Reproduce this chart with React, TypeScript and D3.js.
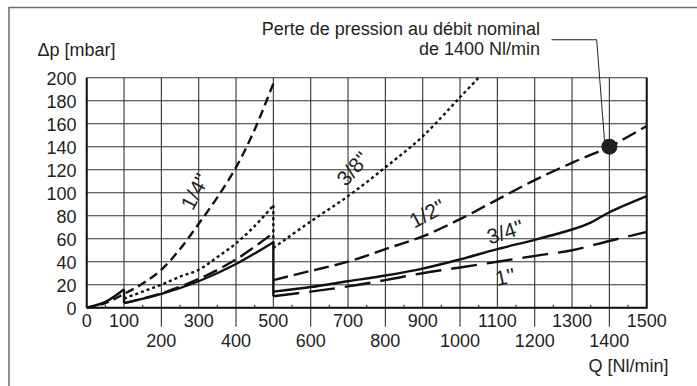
import React from 'react';
import * as d3 from 'd3';

// ticks
const yTicks = [0, 20, 40, 60, 80, 100, 120, 140, 160, 180, 200];
const xTicksTop = [0, 100, 300, 500, 700, 900, 1100, 1300, 1500];
const xTicksLow = [200, 400, 600, 800, 1000, 1200, 1400];
const xGrid = d3.range(0, 1501, 100);
const xMinor = d3.range(50, 1500, 100);

// 1/4'' (0 - 500)
const q14 = [0, 50, 100, 150, 200, 250, 300, 350, 400, 450, 500];
const p14 = [0, 4, 12, 21, 33, 51, 73, 96, 122, 155, 195];

// 3/8'' dotted
const q38a = [100, 150, 200, 250, 300, 350, 400, 450, 500];
const p38a = [8, 14, 20, 27, 33, 44, 56, 71, 89];
const q38b = [500, 600, 700, 800, 900, 1000, 1050];
const p38b = [52, 75, 97, 122, 149, 183, 200];

// 1/2'' long dash
const q12a = [100, 200, 300, 400, 500];
const p12a = [4, 12.5, 25, 42, 65];
const q12b = [500, 600, 700, 800, 900, 1000, 1100, 1200, 1300, 1400, 1500];
const p12b = [24, 32, 40, 51, 62, 77, 94, 111, 126, 140, 158];

// solid (3/4'')
const qSa = [0, 50, 100];
const pSa = [0, 5, 16];
const qSb = [100, 200, 300, 400, 500];
const pSb = [4, 12, 23, 38, 57];
const q34 = [500, 600, 700, 800, 900, 1000, 1100, 1200, 1300, 1350, 1400, 1500];
const p34 = [14, 18, 23, 28, 34, 42, 51, 59, 68, 74, 83, 97];

// 1''
const q1 = [500, 600, 700, 800, 900, 1000, 1100, 1200, 1300, 1400, 1500];
const p1 = [10, 14, 18.5, 24, 30, 35, 40, 45, 50, 58, 66];

// jumps at the range changes
const jumps = [
  { q: 100, from: 16, to: 4, dash: '' },
  { q: 500, from: 57, to: 10, dash: '' },
  { q: 500, from: 89, to: 52, dash: '3,3' },
];

const sizeLabels = [
  { text: '1/4\'\'', q: 290, p: 101, rot: -62 },
  { text: '3/8\'\'', q: 713, p: 121, rot: -48 },
  { text: '1/2\'\'', q: 912, p: 82, rot: -28 },
  { text: '3/4\'\'', q: 1121, p: 66, rot: -18 },
  { text: '1\'\'', q: 1121, p: 27, rot: -12 },
];

const nominal = { q: 1400, p: 140 };

const W = 697;
const H = 386;
const font = '"Liberation Sans", Arial, Helvetica, sans-serif';
const ink = '#231f20';

export default function App() {
  const x = d3.scaleLinear().domain([0, 1500]).range([86.7, 646.7]);
  const y = d3.scaleLinear().domain([0, 200]).range([307.7, 77.7]);

  const line = d3
    .line<[number, number]>()
    .x((d) => x(d[0]))
    .y((d) => y(d[1]))
    .curve(d3.curveCatmullRom);

  const zip = (q: number[], p: number[]) => q.map((v, i) => [v, p[i]] as [number, number]);

  const curves = [
    { pts: zip(q14, p14), dash: '9,5' },
    { pts: zip(q38a, p38a), dash: '3,3' },
    { pts: zip(q38b, p38b), dash: '3,3' },
    { pts: zip(q12a, p12a), dash: '15,6' },
    { pts: zip(q12b, p12b), dash: '15,6' },
    { pts: zip(qSa, pSa), dash: '' },
    { pts: zip(qSb, pSb), dash: '' },
    { pts: zip(q34, p34), dash: '' },
    { pts: zip(q1, p1), dash: '26,10' },
  ];

  const x0 = x(0);
  const x1 = x(1500);
  const yb = y(0);
  const yt = y(200);

  return (
    <svg
      width={W}
      height={H}
      style={{ position: 'absolute', left: 0, top: 0, background: '#fff' }}
      fontFamily={font}
    >
      {/* outer frame */}
      <rect x={9} y={7.5} width={720} height={420} fill="none" stroke="#6d6d6d" strokeWidth={1.5} />

      {/* grid */}
      <g stroke="#333" strokeWidth={1.1}>
        {yTicks.map((t) => (
          <line key={'h' + t} x1={x0} x2={x1} y1={y(t)} y2={y(t)} />
        ))}
        {xGrid.map((t) => (
          <line key={'v' + t} x1={x(t)} x2={x(t)} y1={yt} y2={yb} />
        ))}
        {xTicksLow.map((t) => (
          <line key={'tl' + t} x1={x(t)} x2={x(t)} y1={yb} y2={yb + 19} />
        ))}
        {xMinor.map((t) => (
          <line key={'m' + t} x1={x(t)} x2={x(t)} y1={yb} y2={yb - 3} />
        ))}
      </g>
      <g stroke="#111" strokeWidth={2}>
        <line x1={x0} x2={x1} y1={yb} y2={yb} />
        <line x1={x0} x2={x0} y1={yt} y2={yb} />
        <line x1={x1} x2={x1} y1={yt} y2={yb + 1} />
      </g>

      {/* curves */}
      <g fill="none" stroke="#111" strokeWidth={2.4}>
        {curves.map((c, i) => (
          <path key={i} d={line(c.pts) || ''} strokeDasharray={c.dash || undefined} />
        ))}
        {jumps.map((j, i) => (
          <line
            key={'j' + i}
            x1={x(j.q)}
            x2={x(j.q)}
            y1={y(j.from)}
            y2={y(j.to)}
            strokeDasharray={j.dash || undefined}
          />
        ))}
      </g>

      {/* tick labels */}
      <g fill={ink} fontSize={18}>
        {yTicks.map((t) => (
          <text key={'yl' + t} x={76.5} y={y(t) + 7.5} textAnchor="end">
            {t}
          </text>
        ))}
        {xTicksTop.map((t) => (
          <text key={'xa' + t} x={x(t)} y={326.5} textAnchor="middle">
            {t}
          </text>
        ))}
        {xTicksLow.map((t) => (
          <text key={'xb' + t} x={x(t)} y={346.5} textAnchor="middle">
            {t}
          </text>
        ))}
        <text x={37.5} y={56}>Δp [mbar]</text>
        <text x={668.5} y={371.5} textAnchor="end">Q [Nl/min]</text>
        <text x={540} y={35} textAnchor="end">Perte de pression au débit nominal</text>
        <text x={540} y={55} textAnchor="end">de 1400 Nl/min</text>
      </g>
      <g fill={ink} fontSize={21}>
        {sizeLabels.map((l) => (
          <text
            key={l.text}
            transform={`translate(${x(l.q)},${y(l.p)}) rotate(${l.rot})`}
            textAnchor="middle"
            dy="0.35em"
          >
            {l.text}
          </text>
        ))}
      </g>

      {/* nominal point with leader */}
      <polyline
        points={`${x(1245)},${y(233)} ${x(1366)},${y(233)} ${x(nominal.q) - 4},${y(nominal.p) + 5}`}
        fill="none"
        stroke={ink}
        strokeWidth={1}
      />
      <circle cx={x(nominal.q)} cy={y(nominal.p)} r={8} fill={ink} />
    </svg>
  );
}
